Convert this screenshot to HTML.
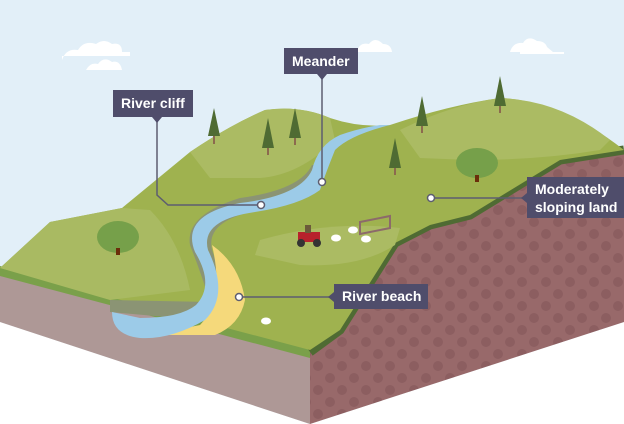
<!DOCTYPE html>
<html><head><meta charset="utf-8"><style>
html,body{margin:0;padding:0;width:624px;height:424px;overflow:hidden;background:#fff}
.l{position:absolute;background:#4f4d6b;color:#fff;font:bold 14px "Liberation Sans",sans-serif;white-space:nowrap;box-sizing:border-box;padding:0 8px}
</style></head><body>
<svg width="624" height="424" viewBox="0 0 624 424" style="position:absolute;left:0;top:0">
<defs>
<pattern id="dots" width="24" height="24" patternUnits="userSpaceOnUse">
<rect width="24" height="24" fill="#98696a"/><circle cx="6" cy="6" r="5" fill="#8c5e60"/><circle cx="18" cy="18" r="5" fill="#8c5e60"/>
</pattern>
</defs>
<rect width="624" height="424" fill="#fff"/>
<polygon points="0,0 624,0 624,322 310,424 0,322" fill="#e2eff8"/>
<g fill="#fff">
<path d="M62,60 q4,-12 16,-10 q6,-10 18,-6 q8,-6 16,0 q10,-2 10,8 l8,0 l0,4 l-68,0z"/>
<path d="M86,70 q4,-8 12,-6 q6,-8 14,-2 q8,-2 10,8z"/>
<path d="M357,52 q2,-10 12,-8 q6,-8 14,0 q8,0 9,8z"/>
<path d="M510,52 q3,-10 13,-9 q5,-8 14,-2 q8,0 10,6 l6,5z"/>
<path d="M520,52 l44,0 l0,2 l-44,0z"/>
</g>
<polygon points="0,268 310,350 310,424 0,322" fill="#ae9896"/>
<polygon points="310,350 340,330 395,243 430,225 470,215 560,160 624,150 624,322 310,424" fill="url(#dots)"/>
<polygon points="0,266 310,348 310,358 0,276" fill="#7aa04a"/>
<polyline points="310,352 340,330 395,243 430,225 470,215 560,160 624,150" fill="none" stroke="#4f6b33" stroke-width="9"/>
<path d="M0,268 L50,222 L122,208 L190,152 Q230,125 265,110 Q300,105 330,118 Q360,128 390,125 Q450,105 500,98 Q560,100 624,150 L560,160 470,215 430,225 395,243 340,330 310,350 Z" fill="#9fb24f"/>
<path d="M190,152 Q230,125 265,110 Q300,105 330,118 L335,140 Q300,175 260,178 L210,178 Z" fill="#abbb63"/>
<path d="M400,130 Q450,105 500,98 Q560,100 610,140 L600,150 Q540,160 470,160 L420,158 Z" fill="#abbb63"/>
<path d="M0,268 L50,222 L122,208 L150,210 Q180,240 190,290 L110,300 Z" fill="#a9ba62"/>
<path d="M260,240 Q330,220 400,228 L395,245 Q360,268 300,265 L255,255 Z" fill="#abbb63"/>
<path d="M110,300 L210,302 Q200,270 190,245 Q185,215 240,198 Q300,190 312,165 L325,165 Q320,200 260,210 Q205,220 212,250 Q230,300 200,320 L110,312 Z" fill="#8b9474"/>
<path d="M212,245 Q240,265 245,300 Q240,325 215,335 L150,335 L200,325 Q225,300 212,245 Z" fill="#f5d97b"/>
<path d="M390,125 Q350,135 335,150 Q325,175 320,190 Q300,205 255,212 Q200,220 208,250 Q230,295 205,320 Q170,340 140,338 Q112,335 112,312 L140,318 Q180,318 196,305 Q215,285 195,252 Q180,215 240,203 Q300,196 312,170 Q318,145 340,135 Q360,128 380,125 Z" fill="#9ccbe8"/>
<g fill="#4f6b33">
<path d="M214,108 l6,28 l-12,0z"/><path d="M268,118 l6,30 l-12,0z"/><path d="M295,108 l6,30 l-12,0z"/>
<path d="M422,96 l6,30 l-12,0z"/><path d="M500,76 l6,30 l-12,0z"/><path d="M395,138 l6,30 l-12,0z"/>
</g>
<g fill="#8c6a4e">
<rect x="213" y="136" width="2" height="8"/><rect x="267" y="148" width="2" height="7"/><rect x="294" y="138" width="2" height="7"/>
<rect x="421" y="126" width="2" height="7"/><rect x="499" y="106" width="2" height="7"/><rect x="394" y="168" width="2" height="7"/>
</g>
<g fill="#76a04a"><ellipse cx="118" cy="237" rx="21" ry="16"/><ellipse cx="477" cy="163" rx="21" ry="15"/></g>
<rect x="116" y="248" width="4" height="7" fill="#6b2e0a"/><rect x="475" y="175" width="4" height="7" fill="#6b2e0a"/>
<rect x="298" y="232" width="22" height="10" fill="#b8222c"/><circle cx="301" cy="243" r="4" fill="#333"/><circle cx="317" cy="243" r="4" fill="#333"/>
<rect x="305" y="225" width="6" height="8" fill="#6b5a3a"/>
<g fill="#fff"><ellipse cx="336" cy="238" rx="5" ry="3.5"/><ellipse cx="353" cy="230" rx="5" ry="3.5"/><ellipse cx="366" cy="239" rx="5" ry="3.5"/><ellipse cx="266" cy="321" rx="5" ry="3.5"/></g>
<path d="M360,222 l30,-6 l0,12 l-30,6z" fill="none" stroke="#8c6a6a" stroke-width="2"/>
<g stroke="#5d5d70" stroke-width="1.5" fill="none">
<polyline points="322,74 322,182"/>
<polyline points="157,117 157,195 168,205 261,205"/>
<polyline points="431,198 527,198"/>
<polyline points="239,297 334,297"/>
</g>
<g fill="#fff" stroke="#5d5d70" stroke-width="1.5">
<circle cx="322" cy="182" r="3.5"/><circle cx="261" cy="205" r="3.5"/><circle cx="431" cy="198" r="3.5"/><circle cx="239" cy="297" r="3.5"/>
</g>
<g fill="#4f4d6b">
<path d="M317,74 l5,6 l5,-6z"/><path d="M152,117 l5,6 l5,-6z"/><path d="M527,193 l-6,5 l6,5z"/><path d="M334,292 l-6,5 l6,5z"/>
</g>
</svg>
<div class="l" style="left:284px;top:48px;height:26px;line-height:26px;width:74px;">Meander</div>
<div class="l" style="left:113px;top:90px;height:27px;line-height:27px;width:80px;">River cliff</div>
<div class="l" style="left:527px;top:177px;height:41px;width:97px;line-height:18px;padding-top:3px">Moderately<br>sloping land</div>
<div class="l" style="left:334px;top:284px;height:25px;line-height:25px;width:94px;">River beach</div>
</body></html>
